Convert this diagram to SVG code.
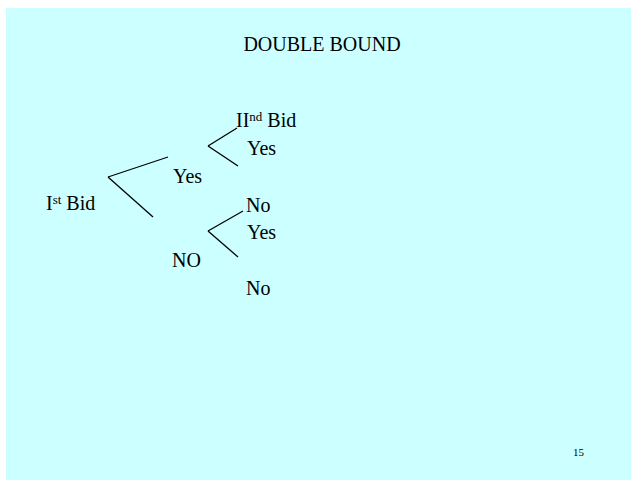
<svg xmlns="http://www.w3.org/2000/svg" width="631" height="481" viewBox="0 0 631 481">
<style>
text{font-family:"Liberation Serif","Times New Roman",serif;fill:#000}
.t{font-size:20px}
.sup{font-size:13px}
.c line{stroke:#000;stroke-width:1.3}
</style>
<rect x="0" y="0" width="631" height="481" fill="#fff"/>
<rect x="6" y="8" width="625" height="472" fill="#ccffff"/>
<g id="title"><text class="t" x="322" y="51" text-anchor="middle">DOUBLE BOUND</text></g>
<g id="bid1"><text class="t" x="46" y="210">I<tspan class="sup" dy="-6">st</tspan><tspan dy="6"> Bid</tspan></text></g>
<g id="yes1"><text class="t" x="173" y="183">Yes</text></g>
<g id="no1"><text class="t" x="172" y="267">NO</text></g>
<g id="bid2"><text class="t" x="236" y="127">II<tspan class="sup" dy="-6">nd</tspan><tspan dy="6"> Bid</tspan></text></g>
<g id="yes2"><text class="t" x="247" y="155">Yes</text></g>
<g id="no2"><text class="t" x="246" y="212">No</text></g>
<g id="yes3"><text class="t" x="247" y="239">Yes</text></g>
<g id="no3"><text class="t" x="246" y="295">No</text></g>
<g id="page"><text x="573" y="456" font-size="11">15</text></g>
<g class="c" id="connectors">
<line x1="108" y1="177" x2="168" y2="157"/>
<line x1="108" y1="177" x2="153" y2="217"/>
<line x1="208" y1="146" x2="237" y2="128"/>
<line x1="208" y1="146" x2="238" y2="166"/>
<line x1="208" y1="231" x2="243" y2="211"/>
<line x1="208" y1="231" x2="238" y2="257"/>
</g>
</svg>
